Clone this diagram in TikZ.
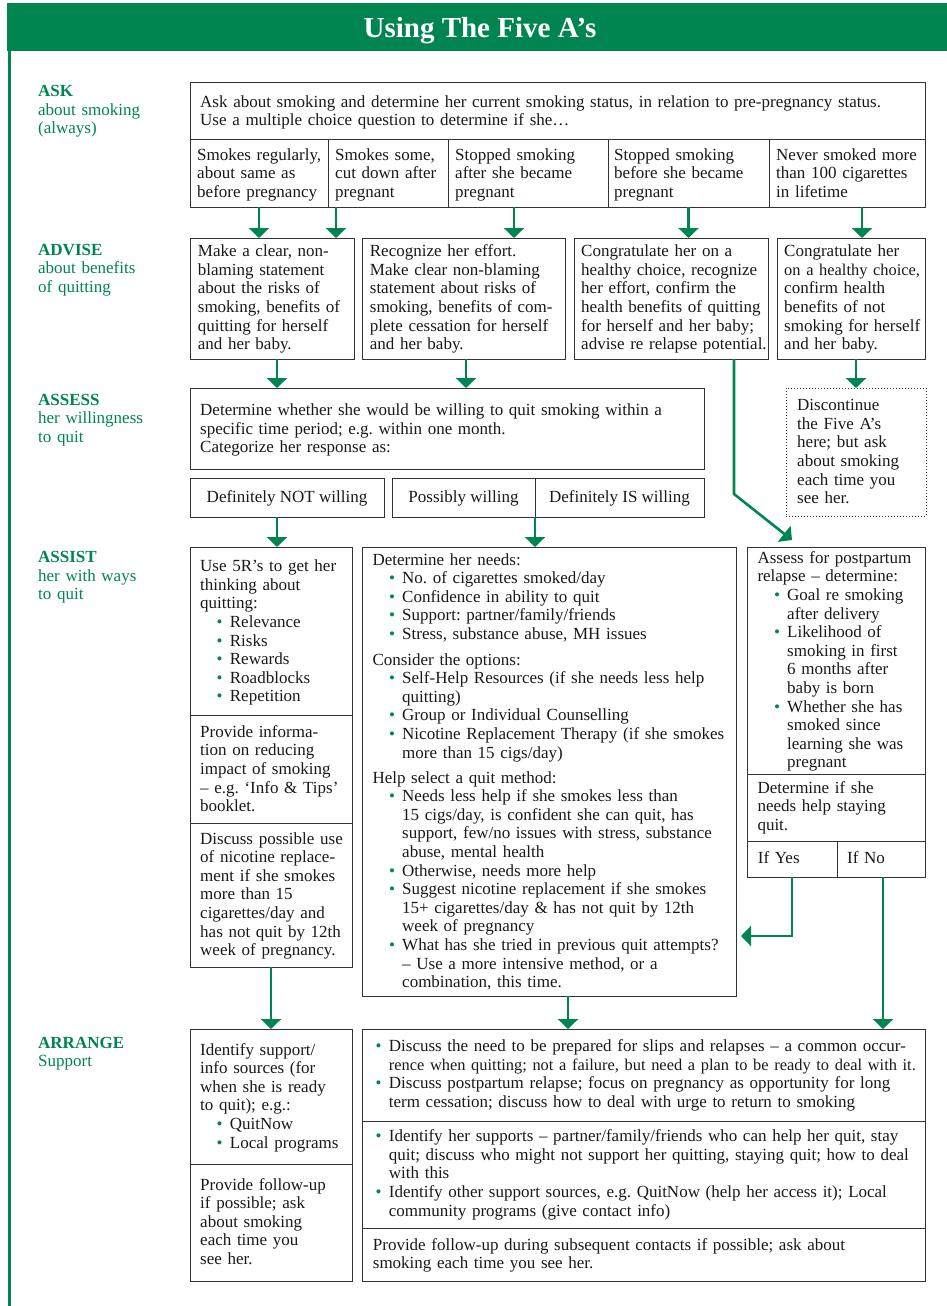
\documentclass[tikz,border=0pt]{standalone}
\usepackage{fontspec}
\setmainfont{Liberation Serif}
\usetikzlibrary{arrows.meta, fit, positioning}

\definecolor{fagreen}{RGB}{0,133,80}
\newcommand{\bodyfont}{\fontsize{17}{18.6}\selectfont\frenchspacing}
\newcommand{\tight}{\fontsize{16.4}{18.6}\selectfont}
\newcommand{\bul}{\textcolor{fagreen}{\textbullet}}
\newcommand{\bi}[1][16.5pt]{\hspace*{#1}\makebox[13.2pt][l]{\bul}\ignorespaces}
\newcommand{\ci}[1][29.7pt]{\hspace*{#1}\ignorespaces}

\tikzset{
  box/.style={draw=black!80, line width=1pt, inner sep=0pt, outer sep=0pt},
  stopbox/.style={box, dash pattern=on 1pt off 2pt},
  txt/.style={anchor=base west, align=left, inner sep=0pt, font=\bodyfont, text=black!90, text width=#1},
  txt/.default=200pt,
  opttxt/.style={anchor=base, inner sep=0pt, font=\bodyfont, text=black!90},
  lbl/.style={txt=150pt, text=fagreen},
  arr/.style={draw=fagreen, line width=2.6pt, -{Triangle[width=20pt,length=10pt]}},
}

\begin{document}
\begin{tikzpicture}[x=1pt, y=-1pt]
  \useasboundingbox (0,0) rectangle (947,1306);
  \fill[fagreen] (7,3) rectangle (947,51);
  \draw[fagreen, line width=3pt] (9,51) -- (9,1306);
  \node[anchor=base, text=white, font=\fontsize{29}{30}\selectfont\bfseries] (title) at (480,37.3) {Using The Five A’s};

  \node[lbl] (lask) at (38,96.7) {\textbf{ASK}\\about smoking\\(always)};
  \node[lbl] (ladvise) at (38,255) {\textbf{ADVISE}\\about benefits\\of quitting};
  \node[lbl] (lassess) at (38,405) {\textbf{ASSESS}\\her willingness\\to quit};
  \node[lbl] (lassist) at (38,562.7) {\textbf{ASSIST}\\her with ways\\to quit};
  \node[lbl] (larrange) at (38,1048.3) {\textbf{ARRANGE}\\Support};

  \node[box, fit={(190,82) (925,139)}] (ask) {};
  \node[box, fit={(190,139) (328,207)}] (opt1) {};
  \node[box, fit={(328,139) (448,207)}] (opt2) {};
  \node[box, fit={(448,139) (608,207)}] (opt3) {};
  \node[box, fit={(608,139) (769,207)}] (opt4) {};
  \node[box, fit={(769,139) (925,207)}] (opt5) {};

  \node[box, fit={(190,238) (354,359)}] (adv1) {};
  \node[box, fit={(362,238) (565,359)}] (adv2) {};
  \node[box, fit={(574,238) (768,359)}] (adv3) {};
  \node[box, fit={(777,238) (925,359)}] (adv4) {};

  \node[box, fit={(190,388) (704,469)}] (ases) {};
  \node[box, fit={(190,478) (384,517)}] (not) {};
  \node[box, fit={(392,478) (535,517)}] (poss) {};
  \node[box, fit={(535,478) (704,517)}] (is) {};
  \node[stopbox, fit={(786,388) (926,516)}] (stop) {};

  \node[box, fit={(190,547) (352,715)}] (as1a) {};
  \node[box, fit={(190,715) (352,823)}] (as1b) {};
  \node[box, fit={(190,823) (352,967)}] (as1c) {};
  \node[box, fit={(362,547) (736,996)}] (as2) {};
  \node[box, fit={(747,547) (925,774)}] (as3a) {};
  \node[box, fit={(747,774) (925,841)}] (as3b) {};
  \node[box, fit={(747,841) (837,877)}] (yes) {};
  \node[box, fit={(837,841) (925,877)}] (no) {};

  \node[box, fit={(190,1029) (352,1164)}] (ar1a) {};
  \node[box, fit={(190,1164) (352,1281)}] (ar1b) {};
  \node[box, fit={(362,1029) (925,1121)}] (ar2a) {};
  \node[box, fit={(362,1121) (925,1228)}] (ar2b) {};
  \node[box, fit={(362,1228) (925,1281)}] (ar2c) {};

  \node[txt=720pt] (task) at (200,107) {Ask about smoking and determine her current smoking status, in relation to pre-pregnancy status.\\Use a multiple choice question to determine if she…};
  \node[txt=160pt] (topt1) at (197,160) {Smokes regularly,\\about same as\\before pregnancy};
  \node[txt=160pt] (topt2) at (335,160) {Smokes some,\\cut down after\\pregnant};
  \node[txt=160pt] (topt3) at (455,160) {Stopped smoking\\after she became\\pregnant};
  \node[txt=160pt] (topt4) at (614,160) {Stopped smoking\\before she became\\pregnant};
  \node[txt=160pt] (topt5) at (776,160) {Never smoked more\\than 100 cigarettes\\in lifetime};

  \node[txt] (tadv1) at (197.7,256.7) {Make a clear, non-\\blaming statement\\about the risks of\\smoking, benefits of\\quitting for herself\\and her baby.};
  \node[txt] (tadv2) at (369.7,256.7) {Recognize her effort.\\Make clear non-blaming\\statement about risks of\\smoking, benefits of com-\\plete cessation for herself\\and her baby.};
  \node[txt] (tadv3) at (581,256.7) {Congratulate her on a\\healthy choice, recognize\\her effort, confirm the\\health benefits of quitting\\for herself and her baby;\\advise re relapse potential.};
  \node[txt] (tadv4) at (784,256.7) {Congratulate her\\{\tight on a healthy choice,}\\confirm health\\benefits of not\\smoking for herself\\and her baby.};

  \node[txt=500pt] (tases) at (200,415.5) {Determine whether she would be willing to quit smoking within a\\specific time period; e.g. within one month.\\Categorize her response as:};
  \node[opttxt] (tnot) at ([yshift=-5pt]not.center) {Definitely NOT willing};
  \node[opttxt] (tposs) at ([yshift=-5pt]poss.center) {Possibly willing};
  \node[opttxt] (tis) at ([yshift=-5pt]is.center) {Definitely IS willing};
  \node[txt=140pt] (tstop) at (797,410.7) {Discontinue\\the Five A’s\\here; but ask\\about smoking\\each time you\\see her.};

  \node[txt=160pt] (tas1a) at (200,571.7) {Use 5R’s to get her\\thinking about\\quitting:\\
    \bi Relevance\\
    \bi Risks\\
    \bi Rewards\\
    \bi Roadblocks\\
    \bi Repetition};
  \node[txt=160pt] (tas1b) at (200,737.3) {Provide informa-\\tion on reducing\\impact of smoking\\– e.g. ‘Info \& Tips’\\booklet.};
  \node[txt=160pt] (tas1c) at (200,844) {Discuss possible use\\of nicotine replace-\\ment if she smokes\\more than 15\\cigarettes/day and\\has not quit by 12th\\week of pregnancy.};
  \node[txt=370pt] (tas2) at (372.3,565) {Determine her needs:\\
    \bi No. of cigarettes smoked/day\\
    \bi Confidence in ability to quit\\
    \bi Support: partner/family/friends\\
    \bi Stress, substance abuse, MH issues\\[7pt]
    Consider the options:\\
    \bi Self-Help Resources (if she needs less help\\
    \ci quitting)\\
    \bi Group or Individual Counselling\\
    \bi Nicotine Replacement Therapy (if she smokes\\
    \ci more than 15 cigs/day)\\[6.5pt]
    Help select a quit method:\\
    \bi Needs less help if she smokes less than\\
    \ci 15 cigs/day, is confident she can quit, has\\
    \ci support, few/no issues with stress, substance\\
    \ci abuse, mental health\\
    \bi Otherwise, needs more help\\
    \bi Suggest nicotine replacement if she smokes\\
    \ci 15+ cigarettes/day \& has not quit by 12th\\
    \ci week of pregnancy\\
    \bi What has she tried in previous quit attempts?\\
    \ci – Use a more intensive method, or a\\
    \ci combination, this time.};
  \node[txt=175pt] (tas3a) at (757.3,563.3) {Assess for postpartum\\relapse – determine:\\
    \bi Goal re smoking\\
    \ci after delivery\\
    \bi Likelihood of\\
    \ci smoking in first\\
    \ci 6 months after\\
    \ci baby is born\\
    \bi Whether she has\\
    \ci smoked since\\
    \ci learning she was\\
    \ci pregnant};
  \node[txt=175pt] (tas3b) at (757.3,793.3) {Determine if she\\needs help staying\\quit.};
  \node[txt=80pt] (tyes) at (757.7,863.3) {If Yes};
  \node[txt=80pt] (tno) at (847,863.3) {If No};

  \node[txt=160pt] (tar1a) at (200,1055) {Identify support/\\info sources (for\\when she is ready\\to quit); e.g.:\\
    \bi QuitNow\\
    \bi Local programs};
  \node[txt=160pt] (tar1b) at (200,1190) {Provide follow-up\\if possible; ask\\about smoking\\each time you\\see her.};
  \node[txt=600pt] (tar2a) at (372,1051.7) {\bi[3.5pt] Discuss the need to be prepared for slips and relapses – a common occur-\\
    \ci[16.7pt] {\tight rence when quitting; not a failure, but need a plan to be ready to deal with it.}\\
    \bi[3.5pt] Discuss postpartum relapse; focus on pregnancy as opportunity for long\\
    \ci[16.7pt] term cessation; discuss how to deal with urge to return to smoking};
  \node[txt=600pt] (tar2b) at (372,1141.7) {\bi[3.5pt] Identify her supports – partner/family/friends who can help her quit, stay\\
    \ci[16.7pt] quit; discuss who might not support her quitting, staying quit; how to deal\\
    \ci[16.7pt] with this\\
    \bi[3.5pt] Identify other support sources, e.g. QuitNow (help her access it); Local\\
    \ci[16.7pt] community programs (give contact info)};
  \node[txt=600pt] (tar2c) at (372.7,1250) {Provide follow-up during subsequent contacts if possible; ask about\\smoking each time you see her.};

  \coordinate (relapse) at ([xshift=45pt, yshift=7pt]as3a.north west);
  \coordinate (yesend) at ([xshift=5pt, yshift=60pt]as2.south east);

  \draw[arr] (opt1.south) -- (opt1.south |- adv1.north);
  \draw[arr] ([xshift=8pt]opt2.south west) -- ([xshift=8pt]opt2.south west |- adv1.north);
  \draw[arr] ([xshift=-14pt]opt3.south) -- ([xshift=-14pt]opt3.south |- adv2.north);
  \draw[arr] (opt4.south) -- (opt4.south |- adv3.north);
  \draw[arr] ([xshift=15pt]opt5.south) -- ([xshift=15pt]opt5.south |- adv4.north);

  \draw[arr] ([xshift=5pt]adv1.south) -- ([xshift=5pt]adv1.south |- ases.north);
  \draw[arr] ([xshift=2.5pt]adv2.south) -- ([xshift=2.5pt]adv2.south |- ases.north);
  \draw[arr] (adv4.south -| stop.north) -- (stop.north);
  \draw[arr] ([xshift=-34pt]adv3.south east) -- ++(0,135) -- (relapse);

  \draw[arr] ([xshift=-10pt]not.south) -- ([xshift=-10pt]not.south |- as1a.north);
  \draw[arr] (poss.south east) -- (poss.south east |- as2.north);

  \draw[arr] (as1c.south) -- (as1c.south |- ar1a.north);
  \draw[arr] ([xshift=19pt]as2.south) -- ([xshift=19pt]as2.south |- ar2a.north);
  \draw[arr] ([xshift=2pt]no.south) -- ([xshift=2pt]no.south |- ar2a.north);
  \draw[arr] (yes.south) |- (yesend);
\end{tikzpicture}
\end{document}
